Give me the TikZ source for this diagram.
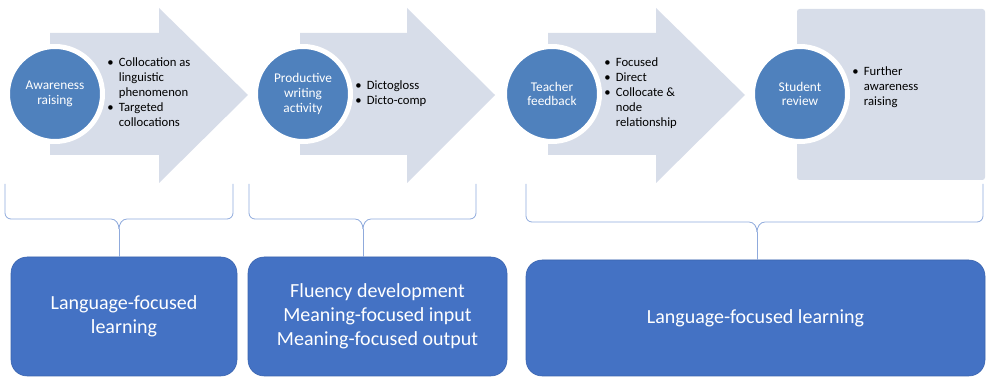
\documentclass[tikz,border=0pt]{standalone}
\usepackage{fontspec}
\setmainfont{Carlito}
\usetikzlibrary{positioning}

\definecolor{arrowgrey}{HTML}{D7DDE9}
\definecolor{stepblue}{HTML}{4F81BD}
\definecolor{boxblue}{HTML}{4472C4}
\definecolor{boxline}{HTML}{3B64AE}
\definecolor{braceblue}{HTML}{8FAADC}

\tikzset{
  stage/.style={circle, draw=white, line width=3.75pt, fill=stepblue, minimum size=71.25pt, inner sep=0pt, align=center, text=white, font=\fontsize{10}{11}\selectfont},
  points/.style={inner sep=0pt, font=\fontsize{9.5}{11.25}\selectfont},
  outcome/.style={draw=boxline, rounded corners=12pt, fill=boxblue, text=white, align=center, font=\fontsize{15}{18}\selectfont},
  bigarrow/.style={fill=arrowgrey},
  grouping/.style={draw=braceblue, line width=0.6pt}
}

\begin{document}
\begin{tikzpicture}[x=0.75pt, y=-0.75pt]
\useasboundingbox (0,0) rectangle (986,377);

% arrows behind the stages
\foreach \s/\h/\t in {50/159/248, 300/407/495, 548/656/745}
  \fill[bigarrow] (\s,33) -- (\h,33) -- (\h,8) -- (\t,95) -- (\h,183) -- (\h,155) -- (\s,155) -- cycle;
\fill[bigarrow, rounded corners=2pt] (797,9) rectangle (985,180);

% stages
\node[stage] (aware) at (55,94) {Awareness\\raising};
\node[stage] (write) at (303,94) {Productive\\writing\\activity};
\node[stage] (feedback) at (552,94) {Teacher\\feedback};
\node[stage] (review) at (800,94) {Student\\review};

\node[points, right=1.5pt of aware] (awarepts) {\begin{tabular}{@{}l@{\hspace{4pt}}l@{}}
\textbullet & Collocation as\\ & linguistic\\ & phenomenon\\ \textbullet & Targeted\\ & collocations\end{tabular}};
\node[points, right=1.5pt of write] (writepts) {\begin{tabular}{@{}l@{\hspace{4pt}}l@{}}
\textbullet & Dictogloss\\ \textbullet & Dicto-comp\end{tabular}};
\node[points, right=1.5pt of feedback] (feedbackpts) {\begin{tabular}{@{}l@{\hspace{4pt}}l@{}}
\textbullet & Focused\\ \textbullet & Direct\\ \textbullet & Collocate \&\\ & node\\ & relationship\end{tabular}};
\node[points, right=1.5pt of review, yshift=5pt] (reviewpts) {\begin{tabular}{@{}l@{\hspace{4pt}}l@{}}
\textbullet & Further\\ & awareness\\ & raising\end{tabular}};

% outcomes
\node[outcome, minimum width=169.5pt, minimum height=89.25pt] (langA) at (124,316.5) {Language-focused\\learning};
\node[outcome, minimum width=194.25pt, minimum height=89.25pt] (fluency) at (377.5,316.5) {Fluency development\\Meaning-focused input\\Meaning-focused output};
\node[outcome, minimum width=344.25pt, minimum height=87pt] (langB) at (755.5,318) {Language-focused learning};

% braces down to the outcomes
\foreach \l/\r/\m/\y/\b in {5/233/119/219/langA, 249/476/363/219/fluency, 526/983/757/222/langB}{
  \coordinate (tip) at (\m,\y+10);
  \draw[grouping] (\l,184) -- (\l,\y-6) to[out=-90,in=180] (\l+6,\y) -- (\m-8,\y) to[out=0,in=90] (tip);
  \draw[grouping] (\r,184) -- (\r,\y-6) to[out=-90,in=0] (\r-6,\y) -- (\m+8,\y) to[out=180,in=90] (tip);
  \draw[grouping] (tip) -- (tip |- \b.north);
}
\end{tikzpicture}
\end{document}
